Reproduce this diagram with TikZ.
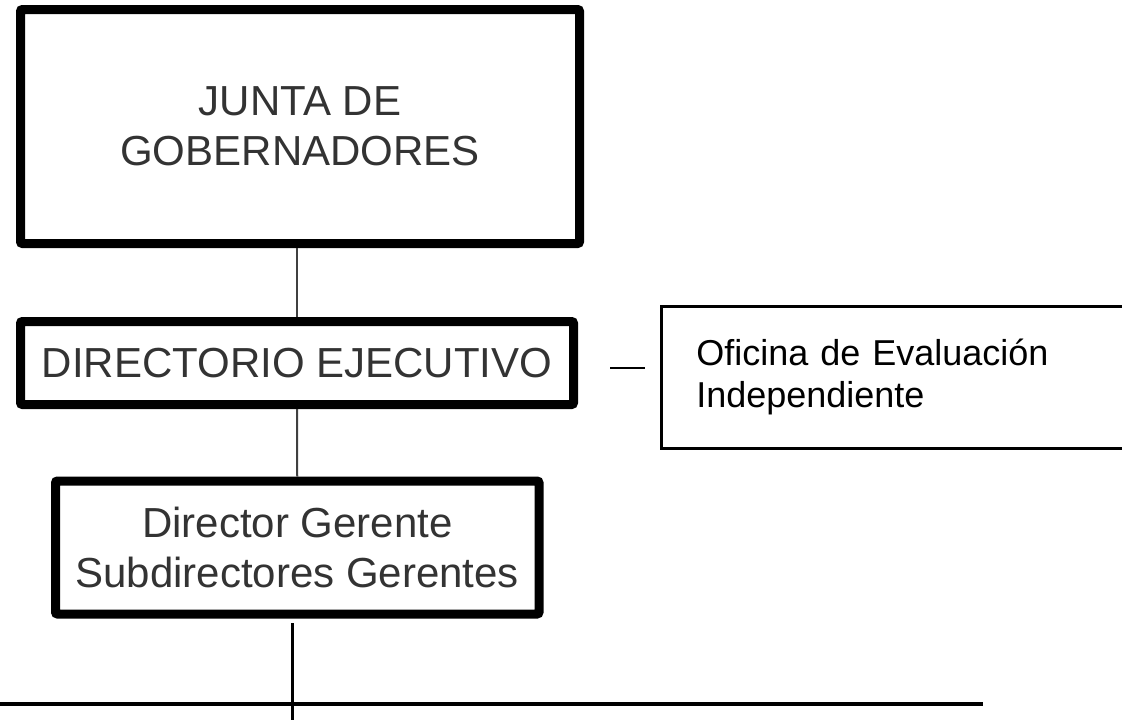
\documentclass[tikz,border=0pt]{standalone}
\usepackage{fontspec}
\setmainfont{Liberation Sans}
\definecolor{txtgray}{HTML}{333333}
\definecolor{linkgray}{HTML}{404040}
\tikzset{
  mainbox/.style={draw=black, line width=9pt, rounded corners=2pt, inner sep=0pt,
    align=center, text=txtgray, font=\fontsize{42}{50}\selectfont},
  sidebox/.style={draw=black, line width=2.5pt, inner ysep=0pt, inner xsep=35pt,
    align=left, text=black, font=\fontsize{36}{42}\selectfont},
  link/.style={draw=linkgray, line width=2pt},
  rule/.style={draw=black, line width=2.5pt},
  baseline rule/.style={draw=black, line width=4.5pt}
}
\begin{document}
\begin{tikzpicture}[x=1pt, y=-1pt]
  \clip (0,0) rectangle (1122,720);
  \node[mainbox, minimum width=559pt, minimum height=234pt] (junta) at (300,126.5)
    {JUNTA DE\\GOBERNADORES};
  \node[mainbox, minimum width=553pt, minimum height=83pt] (dir) at (297,363)
    {DIRECTORIO EJECUTIVO};
  \node[mainbox, minimum width=483.5pt, minimum height=133pt] (dg) at (297.25,547.5)
    {Director Gerente\\Subdirectores Gerentes};
  \node[sidebox, anchor=north west, text width=410pt, minimum width=480pt,
        minimum height=142pt] (ofi) at (660,305)
    {Oficina de Evaluación\\Independiente};
  \draw[link] (junta.south -| dir.north) -- (dir.north);
  \draw[link] (dir.south) -- (dg.north);
  \coordinate (s1) at (610,368);
  \coordinate (s2) at (645,368);
  \draw[rule, line width=2pt] (s1) -- (s2);
  \coordinate (vt) at (292.5,623);
  \coordinate (vb) at (292.5,720);
  \draw[rule] (vt) -- (vb);
  \coordinate (h1) at (0,704);
  \coordinate (h2) at (983,704);
  \draw[baseline rule] (h1) -- (h2);
\end{tikzpicture}
\end{document}
